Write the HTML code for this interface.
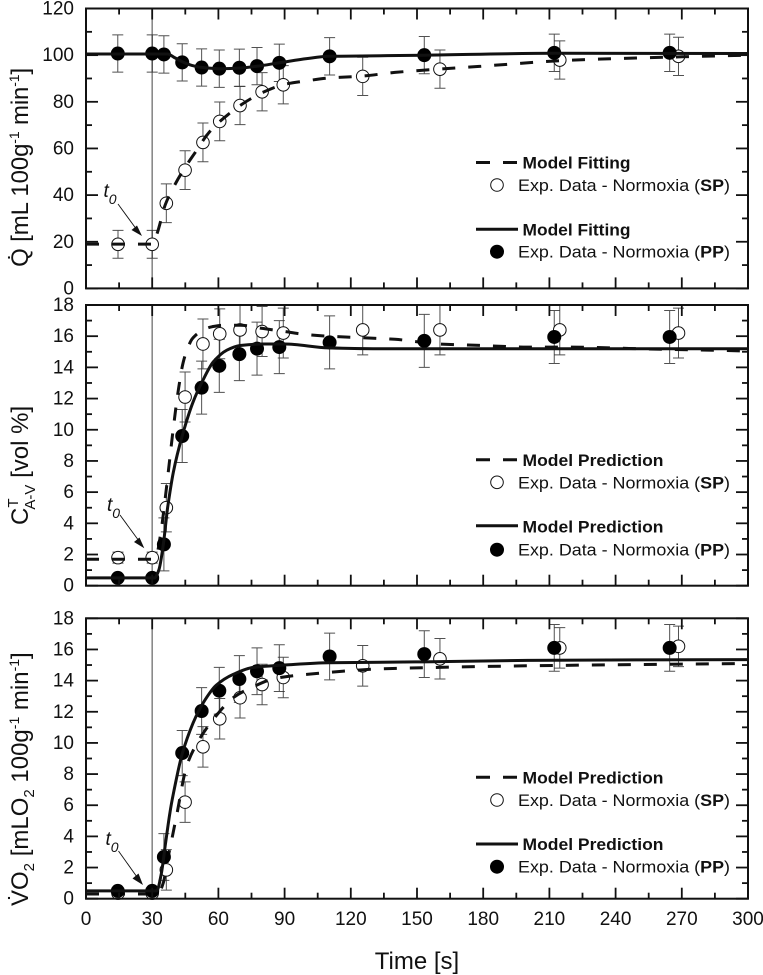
<!DOCTYPE html>
<html lang="en">
<head>
<meta charset="utf-8">
<title>Normoxia model fits</title>
<style>
html,body{margin:0;padding:0;background:#fff;}
svg{display:block;font-family:"Liberation Sans",Arial,sans-serif;fill:#111;}
</style>
</head>
<body>
<svg id="chart" xmlns="http://www.w3.org/2000/svg" width="763" height="975" viewBox="0 0 763 975">
  <text transform="translate(28,267) rotate(-90)" font-size="24" textLength="199">Q&#775; [mL 100g<tspan font-size="14" dy="-9">-1</tspan><tspan dy="9"> min</tspan><tspan font-size="14" dy="-9">-1</tspan><tspan dy="9">]</tspan></text>
  <text transform="translate(28,525) rotate(-90)" font-size="24">C<tspan font-size="15" dy="-10">T</tspan><tspan font-size="15" dy="17" dx="-10">A-V</tspan><tspan dy="-7"> [vol %]</tspan></text>
  <text transform="translate(28,906) rotate(-90)" font-size="24">V&#775;O<tspan font-size="15" dy="6">2</tspan><tspan dy="-6"> [mLO</tspan><tspan font-size="15" dy="6">2</tspan><tspan dy="-6"> 100g</tspan><tspan font-size="14" dy="-9">-1</tspan><tspan dy="9"> min</tspan><tspan font-size="14" dy="-9">-1</tspan><tspan dy="9">]</tspan></text>
  <text x="417" y="969" font-size="24" text-anchor="middle">Time [s]</text>

  <g>
    <line x1="476" x2="517" y1="162.5" y2="162.5" stroke="#111" stroke-width="3" stroke-dasharray="14 13"/>
    <text x="522.5" y="168.5" font-size="16.5" font-weight="bold" textLength="108" lengthAdjust="spacingAndGlyphs">Model Fitting</text>
    <circle cx="497" cy="185" r="6.3" fill="#fff" stroke="#111" stroke-width="1"/>
    <text x="518" y="191" font-size="16.5" textLength="212" lengthAdjust="spacingAndGlyphs">Exp. Data - Normoxia (<tspan font-weight="bold">SP</tspan>)</text>
    <line x1="476" x2="518" y1="229.3" y2="229.3" stroke="#111" stroke-width="3"/>
    <text x="522.5" y="235.5" font-size="16.5" font-weight="bold" textLength="108" lengthAdjust="spacingAndGlyphs">Model Fitting</text>
    <circle cx="497" cy="251.7" r="7" fill="#000"/>
    <text x="518" y="257.7" font-size="16.5" textLength="212" lengthAdjust="spacingAndGlyphs">Exp. Data - Normoxia (<tspan font-weight="bold">PP</tspan>)</text>
  </g>
  <g>
    <line x1="476" x2="517" y1="459.7" y2="459.7" stroke="#111" stroke-width="3" stroke-dasharray="14 13"/>
    <text x="522.5" y="466" font-size="16.5" font-weight="bold" textLength="141" lengthAdjust="spacingAndGlyphs">Model Prediction</text>
    <circle cx="497" cy="482.3" r="6.3" fill="#fff" stroke="#111" stroke-width="1"/>
    <text x="518" y="488.3" font-size="16.5" textLength="212" lengthAdjust="spacingAndGlyphs">Exp. Data - Normoxia (<tspan font-weight="bold">SP</tspan>)</text>
    <line x1="476" x2="518" y1="525.7" y2="525.7" stroke="#111" stroke-width="3"/>
    <text x="522.5" y="532.5" font-size="16.5" font-weight="bold" textLength="141" lengthAdjust="spacingAndGlyphs">Model Prediction</text>
    <circle cx="497" cy="549.7" r="7" fill="#000"/>
    <text x="518" y="555.7" font-size="16.5" textLength="212" lengthAdjust="spacingAndGlyphs">Exp. Data - Normoxia (<tspan font-weight="bold">PP</tspan>)</text>
  </g>
  <g>
    <line x1="476" x2="517" y1="777.3" y2="777.3" stroke="#111" stroke-width="3" stroke-dasharray="14 13"/>
    <text x="522.5" y="783.3" font-size="16.5" font-weight="bold" textLength="141" lengthAdjust="spacingAndGlyphs">Model Prediction</text>
    <circle cx="497" cy="800" r="6.3" fill="#fff" stroke="#111" stroke-width="1"/>
    <text x="518" y="806" font-size="16.5" textLength="212" lengthAdjust="spacingAndGlyphs">Exp. Data - Normoxia (<tspan font-weight="bold">SP</tspan>)</text>
    <line x1="476" x2="518" y1="844" y2="844" stroke="#111" stroke-width="3"/>
    <text x="522.5" y="850" font-size="16.5" font-weight="bold" textLength="141" lengthAdjust="spacingAndGlyphs">Model Prediction</text>
    <circle cx="497" cy="866.7" r="7" fill="#000"/>
    <text x="518" y="872.7" font-size="16.5" textLength="212" lengthAdjust="spacingAndGlyphs">Exp. Data - Normoxia (<tspan font-weight="bold">PP</tspan>)</text>
  </g>

  <g>
    <text x="103.5" y="197" font-size="19" font-style="italic">t<tspan font-size="14" dy="7">0</tspan></text>
    <line x1="118" y1="204" x2="137" y2="230" stroke="#111" stroke-width="0.9"/>
    <polygon points="142,236 131.5,230 137,225.5" fill="#111"/>
  </g>
  <g>
    <text x="107" y="511" font-size="19" font-style="italic">t<tspan font-size="14" dy="7">0</tspan></text>
    <line x1="120" y1="515" x2="139" y2="541" stroke="#111" stroke-width="0.9"/>
    <polygon points="144.3,548.3 134,542 139.500,537.500" fill="#111"/>
  </g>
  <g>
    <text x="105.5" y="845" font-size="19" font-style="italic">t<tspan font-size="14" dy="7">0</tspan></text>
    <line x1="118.500" y1="851" x2="137" y2="877" stroke="#111" stroke-width="0.9"/>
    <polygon points="143,885 132.500,878.500 138.500,873.500" fill="#111"/>
  </g>
</svg>

<script>
// Shared x categories (seconds)
var timeTicks = [0, 30, 60, 90, 120, 150, 180, 210, 240, 270, 300];
var ppTimes = [14.4, 30, 35.3, 43.6, 52.4, 60.4, 69.5, 77.5, 87.6, 110.4, 153.3, 212.2, 264.5];
var spTimes = [14.5, 30, 36.4, 44.9, 53, 60.6, 69.8, 79.8, 89.4, 125.4, 160.4, 214.7, 268.5];

// Panel 1: blood flow Q
var qTicks = [0, 20, 40, 60, 80, 100, 120];
var qPP = [100.7, 100.7, 100.3, 96.9, 94.7, 94.2, 94.6, 95.3, 96.7, 99.5, 100, 101, 101];
var qPPErr = [8, 8, 8, 8, 8, 8, 8, 8, 8, 8, 8, 8, 8];
var qSP = [18.9, 18.9, 36.5, 50.7, 62.6, 71.6, 78.4, 84.3, 87.3, 90.9, 94, 97.9, 99.5];
var qSPErr = [6, 6, 8.3, 8.3, 8.3, 8.3, 8.2, 8.2, 8.2, 8.2, 8.2, 8.2, 8.2];
var qPPCurveT = [0, 37, 40, 44, 48, 52, 60, 70, 78, 88, 100, 110, 120, 153, 213, 300];
var qPPCurve = [100.5, 100.5, 99, 97, 95.6, 94.8, 94.2, 94.5, 95.3, 96.8, 98.5, 99.5, 99.6, 100, 100.8, 100.7];
var qSPCurveT = [0, 30, 32, 36, 40, 45, 50, 55, 60, 65, 70, 75, 80, 90, 100, 110, 125, 140, 160, 180, 215, 240, 270, 300];
var qSPCurve = [19, 19, 23, 36, 44, 52, 59, 66, 71, 75, 78.5, 81.5, 84, 87.5, 89, 90.2, 91, 92.6, 94, 95.3, 97.6, 98.5, 99.3, 100];

// Panel 2: CT A-V
var cTicks = [0, 2, 4, 6, 8, 10, 12, 14, 16, 18];
var cPP = [0.5, 0.5, 2.65, 9.6, 12.7, 14.1, 14.85, 15.2, 15.3, 15.6, 15.7, 15.95, 15.95];
var cPPErr = [0, 0, 1.7, 1.7, 1.7, 1.7, 1.7, 1.7, 1.7, 1.7, 1.7, 1.7, 1.7];
var cSP = [1.8, 1.8, 5, 12.1, 15.5, 16.15, 16.4, 16.3, 16.2, 16.4, 16.4, 16.4, 16.2];
var cSPErr = [0.35, 0.35, 1.55, 1.6, 1.6, 1.6, 1.6, 1.6, 1.6, 1.6, 1.6, 1.6, 1.6];
var cPPCurveT = [0, 31, 33, 35, 37, 39.6, 43.7, 48.6, 52.4, 57.7, 63.8, 69.8, 80, 90, 110, 130, 300];
var cPPCurve = [0.5, 0.5, 1, 2.6, 5, 7.3, 9.65, 11.8, 13, 14.35, 15.1, 15.4, 15.5, 15.5, 15.25, 15.2, 15.2];
var cSPCurveT = [0, 30, 32, 34, 36, 38, 40, 42, 44, 46, 48, 50, 53, 57, 62, 70, 80, 90, 100, 110, 125, 140, 160, 180, 200, 220, 250, 300];
var cSPCurve = [1.7, 1.7, 2, 3.5, 5.7, 8.2, 10.6, 12.7, 14.3, 15.2, 15.8, 16.1, 16.4, 16.6, 16.7, 16.7, 16.5, 16.3, 16.1, 16, 15.9, 15.8, 15.5, 15.4, 15.3, 15.3, 15.2, 15.05];

// Panel 3: VO2
var vTicks = [0, 2, 4, 6, 8, 10, 12, 14, 16, 18];
var vPP = [0.5, 0.5, 2.68, 9.35, 12.05, 13.35, 14.1, 14.6, 14.8, 15.55, 15.7, 16.1, 16.1];
var vPPErr = [0, 0, 1.5, 1.45, 1.5, 1.5, 1.5, 1.5, 1.5, 1.5, 1.5, 1.5, 1.5];
var vSP = [0.35, 0.35, 1.85, 6.2, 9.75, 11.55, 12.9, 13.75, 14.2, 14.95, 15.4, 16.1, 16.2];
var vSPErr = [0, 0, 1.3, 1.3, 1.3, 1.3, 1.3, 1.3, 1.3, 1.3, 1.3, 1.3, 1.3];
var vPPCurveT = [0, 32, 34, 36, 38, 39.6, 43.6, 48.6, 53, 59, 66.7, 75.8, 90, 110, 150, 200, 300];
var vPPCurve = [0.5, 0.5, 1.5, 3.5, 5.5, 6.75, 9.3, 11.3, 12.55, 13.7, 14.4, 14.85, 15, 15.15, 15.2, 15.3, 15.35];
var vSPCurveT = [0, 30, 33, 35, 37, 39, 41, 45.6, 50, 57.6, 66.7, 74.2, 86, 100, 133, 160, 200, 300];
var vSPCurve = [0.3, 0.3, 0.4, 1, 2.5, 3.9, 5.3, 8.5, 9.9, 11.5, 12.9, 13.5, 14.15, 14.4, 14.75, 14.85, 14.95, 15.1];

var NS = 'http://www.w3.org/2000/svg';
var svg = document.getElementById('chart');
var plotLeft = 86, plotRight = 748, maxTime = 300;
function xScale(t) { return plotLeft + (plotRight - plotLeft) * t / maxTime; }

function mk(parent, tag, attrs, name) {
  var el = document.createElementNS(NS, tag);
  for (var k in attrs) el.setAttribute(k, attrs[k]);
  
  
  parent.appendChild(el);
  return el;
}
function tickLine(g, x1, y1, x2, y2, name) {
  mk(g, 'line', {x1: x1, y1: y1, x2: x2, y2: y2, stroke: '#111', 'stroke-width': 1.8}, name);
}
// Monotone cubic through the curve samples, so no kinks and no overshoot
function curvePath(ts, vs, y) {
  var X = ts.map(xScale), Y = vs.map(y), n = X.length, d = [], m = [], i;
  for (i = 0; i < n - 1; i++) d.push((Y[i + 1] - Y[i]) / (X[i + 1] - X[i]));
  m[0] = d[0];
  m[n - 1] = d[n - 2];
  for (i = 1; i < n - 1; i++) m[i] = d[i - 1] * d[i] <= 0 ? 0 : 2 * d[i - 1] * d[i] / (d[i - 1] + d[i]);
  var s = 'M' + X[0].toFixed(1) + ' ' + Y[0].toFixed(1);
  for (i = 0; i < n - 1; i++) {
    var h = (X[i + 1] - X[i]) / 3;
    s += ' C' + (X[i] + h).toFixed(1) + ' ' + (Y[i] + m[i] * h).toFixed(1) + ' ' +
         (X[i + 1] - h).toFixed(1) + ' ' + (Y[i + 1] - m[i + 1] * h).toFixed(1) + ' ' +
         X[i + 1].toFixed(1) + ' ' + Y[i + 1].toFixed(1);
  }
  return s;
}

function drawPanel(p) {
  var y = function (v) { return p.bottom - (p.bottom - p.top) * v / p.yTicks[p.yTicks.length - 1]; };
  var g = mk(svg, 'g', {}, p.name + '-panel');

  // Reference line at t0
  mk(g, 'line', {x1: xScale(30), x2: xScale(30), y1: p.top, y2: p.bottom, stroke: '#8a8a8a', 'stroke-width': 1.6}, p.name + '-t0-line');

  // Error bars
  function bars(ts, vs, es, name) {
    ts.forEach(function (t, i) {
      if (!es[i]) return;
      var hi = Math.max(y(vs[i] + es[i]), p.top), lo = y(vs[i] - es[i]), cx = xScale(t);
      mk(g, 'path', {d: 'M' + cx + ' ' + hi + 'V' + lo + 'M' + (cx - 5.5) + ' ' + hi + 'h11M' + (cx - 5.5) + ' ' + lo + 'h11',
        fill: 'none', stroke: '#333', 'stroke-width': 1, opacity: 0.85}, name);
    });
  }
  bars(p.spT, p.sp, p.spE, p.name + '-sp-error-bar');
  bars(p.ppT, p.pp, p.ppE, p.name + '-pp-error-bar');

  // Open markers then dashed curve over them
  p.spT.forEach(function (t, i) {
    mk(g, 'circle', {cx: xScale(t), cy: y(p.sp[i]), r: 6.3, fill: '#fff', stroke: '#111', 'stroke-width': 1}, p.name + '-sp-point');
  });
  mk(g, 'path', {d: curvePath(p.spCT, p.spC, y), fill: 'none', stroke: '#111', 'stroke-width': 3, 'stroke-dasharray': '13 13'}, p.name + '-sp-curve');

  // Filled markers and solid curve
  p.ppT.forEach(function (t, i) {
    mk(g, 'circle', {cx: xScale(t), cy: y(p.pp[i]), r: 7, fill: '#000'}, p.name + '-pp-point');
  });
  mk(g, 'path', {d: curvePath(p.ppCT, p.ppC, y), fill: 'none', stroke: '#111', 'stroke-width': 3}, p.name + '-pp-curve');

  // Frame
  mk(g, 'rect', {x: plotLeft, y: p.top, width: plotRight - plotLeft, height: p.bottom - p.top, fill: 'none', stroke: '#111', 'stroke-width': 2}, p.name + '-frame');

  // X ticks (top and bottom)
  for (var i = 0; i < timeTicks.length; i++) {
    var xm = xScale(timeTicks[i]);
    tickLine(g, xm, p.top, xm, p.top + 11, p.name + '-x-major-tick');
    tickLine(g, xm, p.bottom, xm, p.bottom - 11, p.name + '-x-major-tick');
    if (i < timeTicks.length - 1) {
      var xn = xScale((timeTicks[i] + timeTicks[i + 1]) / 2);
      tickLine(g, xn, p.top, xn, p.top + 6, p.name + '-x-minor-tick');
      tickLine(g, xn, p.bottom, xn, p.bottom - 6, p.name + '-x-minor-tick');
    }
    if (p.showX) {
      var lab = mk(g, 'text', {x: xm, y: 925, 'font-size': 19, 'text-anchor': 'middle'}, 'x-tick-label');
      lab.textContent = timeTicks[i];
    }
  }

  // Y ticks (left and right)
  for (var j = 0; j < p.yTicks.length; j++) {
    var ym = y(p.yTicks[j]);
    tickLine(g, plotLeft, ym, plotLeft + 12, ym, p.name + '-y-major-tick');
    tickLine(g, plotRight, ym, plotRight - 12, ym, p.name + '-y-major-tick');
    if (j < p.yTicks.length - 1) {
      var yn = y((p.yTicks[j] + p.yTicks[j + 1]) / 2);
      tickLine(g, plotLeft, yn, plotLeft + 6, yn, p.name + '-y-minor-tick');
      tickLine(g, plotRight, yn, plotRight - 6, yn, p.name + '-y-minor-tick');
    }
    var yl = mk(g, 'text', {x: 74, y: ym + 6, 'font-size': 19, 'text-anchor': 'end'}, p.name + '-y-tick-label');
    yl.textContent = p.yTicks[j];
  }
}

drawPanel({name: 'q', top: 8.5, bottom: 288.4, yTicks: qTicks, showX: false,
  ppT: ppTimes, pp: qPP, ppE: qPPErr, spT: spTimes, sp: qSP, spE: qSPErr,
  ppCT: qPPCurveT, ppC: qPPCurve, spCT: qSPCurveT, spC: qSPCurve});
drawPanel({name: 'cav', top: 305, bottom: 585.7, yTicks: cTicks, showX: false,
  ppT: ppTimes, pp: cPP, ppE: cPPErr, spT: spTimes, sp: cSP, spE: cSPErr,
  ppCT: cPPCurveT, ppC: cPPCurve, spCT: cSPCurveT, spC: cSPCurve});
drawPanel({name: 'vo2', top: 618.3, bottom: 898.7, yTicks: vTicks, showX: true,
  ppT: ppTimes, pp: vPP, ppE: vPPErr, spT: spTimes, sp: vSP, spE: vSPErr,
  ppCT: vPPCurveT, ppC: vPPCurve, spCT: vSPCurveT, spC: vSPCurve});
</script>
</body>
</html>
